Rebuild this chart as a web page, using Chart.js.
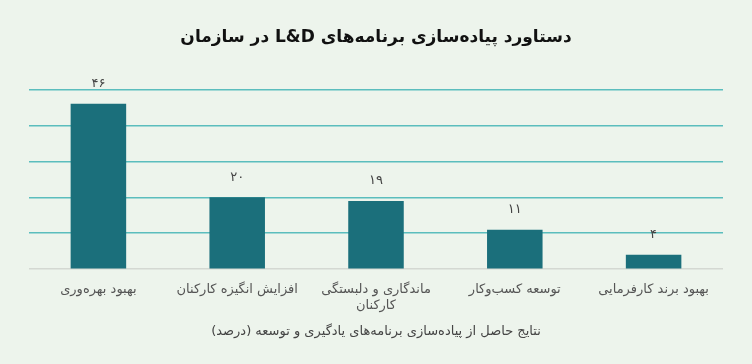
<!DOCTYPE html>
<html>
<head>
<meta charset="utf-8">
<style>
  body { margin: 0; background: #edf4ec; }
  #wrap { width: 752px; height: 364px; }
</style>
</head>
<body>
<div id="wrap"><canvas id="myChart" width="752" height="364" dir="rtl"></canvas></div>
<script src="https://cdn.jsdelivr.net/npm/chart.js@4.4.1/dist/chart.umd.min.js"></script>
<script>
var chartTitle = 'دستاورد پیاده‌سازی برنامه‌های L&D در سازمان';
var axisTitle = 'نتایج حاصل از پیاده‌سازی برنامه‌های یادگیری و توسعه (درصد)';
var categories = [
  'بهبود بهره‌وری',
  'افزایش انگیزه کارکنان',
  ['ماندگاری و دلبستگی', 'کارکنان'],
  'توسعه کسب‌وکار',
  'بهبود برند کارفرمایی'
];
var values = [46, 20, 19, 11, 4];

function toFa(n) {
  return String(n).replace(/[0-9]/g, function (d) { return '۰۱۲۳۴۵۶۷۸۹'[d]; });
}

// labels above bars
var barLabels = {
  id: 'barLabels',
  afterDatasetsDraw: function (chart) {
    var c = chart.ctx;
    var meta = chart.getDatasetMeta(0);
    c.save();
    c.fillStyle = '#444';
    c.font = '13px "DejaVu Sans"';
    c.textAlign = 'center';
    c.textBaseline = 'middle';
    meta.data.forEach(function (bar, i) {
      c.fillText(toFa(values[i]), bar.x, bar.y - 20);
    });
    c.restore();
  }
};

var ctx = document.getElementById('myChart').getContext('2d');
ctx.direction = 'rtl';
var myChart = new Chart(ctx, {
  type: 'bar',
  data: {
    labels: categories,
    datasets: [{
      data: values,
      backgroundColor: '#1b6f7b',
      barPercentage: 0.8,
      categoryPercentage: 0.5
    }]
  },
  options: {
    responsive: false,
    animation: false,
    layout: { padding: { left: 29, right: 29, top: 0, bottom: 21 } },
    plugins: {
      legend: { display: false },
      tooltip: { enabled: false },
      title: {
        display: true,
        text: chartTitle,
        color: '#111',
        font: { family: 'DejaVu Sans', size: 17, weight: 'bold' },
        padding: { top: 27, bottom: 42 }
      }
    },
    scales: {
      x: {
        grid: { display: false },
        border: { display: false },
        ticks: {
          color: '#555',
          font: { family: 'DejaVu Sans', size: 13 },
          padding: 5,
          maxRotation: 0
        },
        title: {
          display: true,
          text: axisTitle,
          color: '#444',
          font: { family: 'DejaVu Sans', size: 13 },
          padding: { top: 5 }
        }
      },
      y: {
        min: 0,
        max: 50,
        ticks: { display: false, stepSize: 10 },
        border: { display: false },
        grid: {
          drawTicks: false,
          lineWidth: 1.5,
          color: function (c) { return c.tick && c.tick.value === 0 ? '#d4d8d2' : '#5bbdbd'; }
        }
      }
    }
  },
  plugins: [barLabels]
});
</script>
</body>
</html>
